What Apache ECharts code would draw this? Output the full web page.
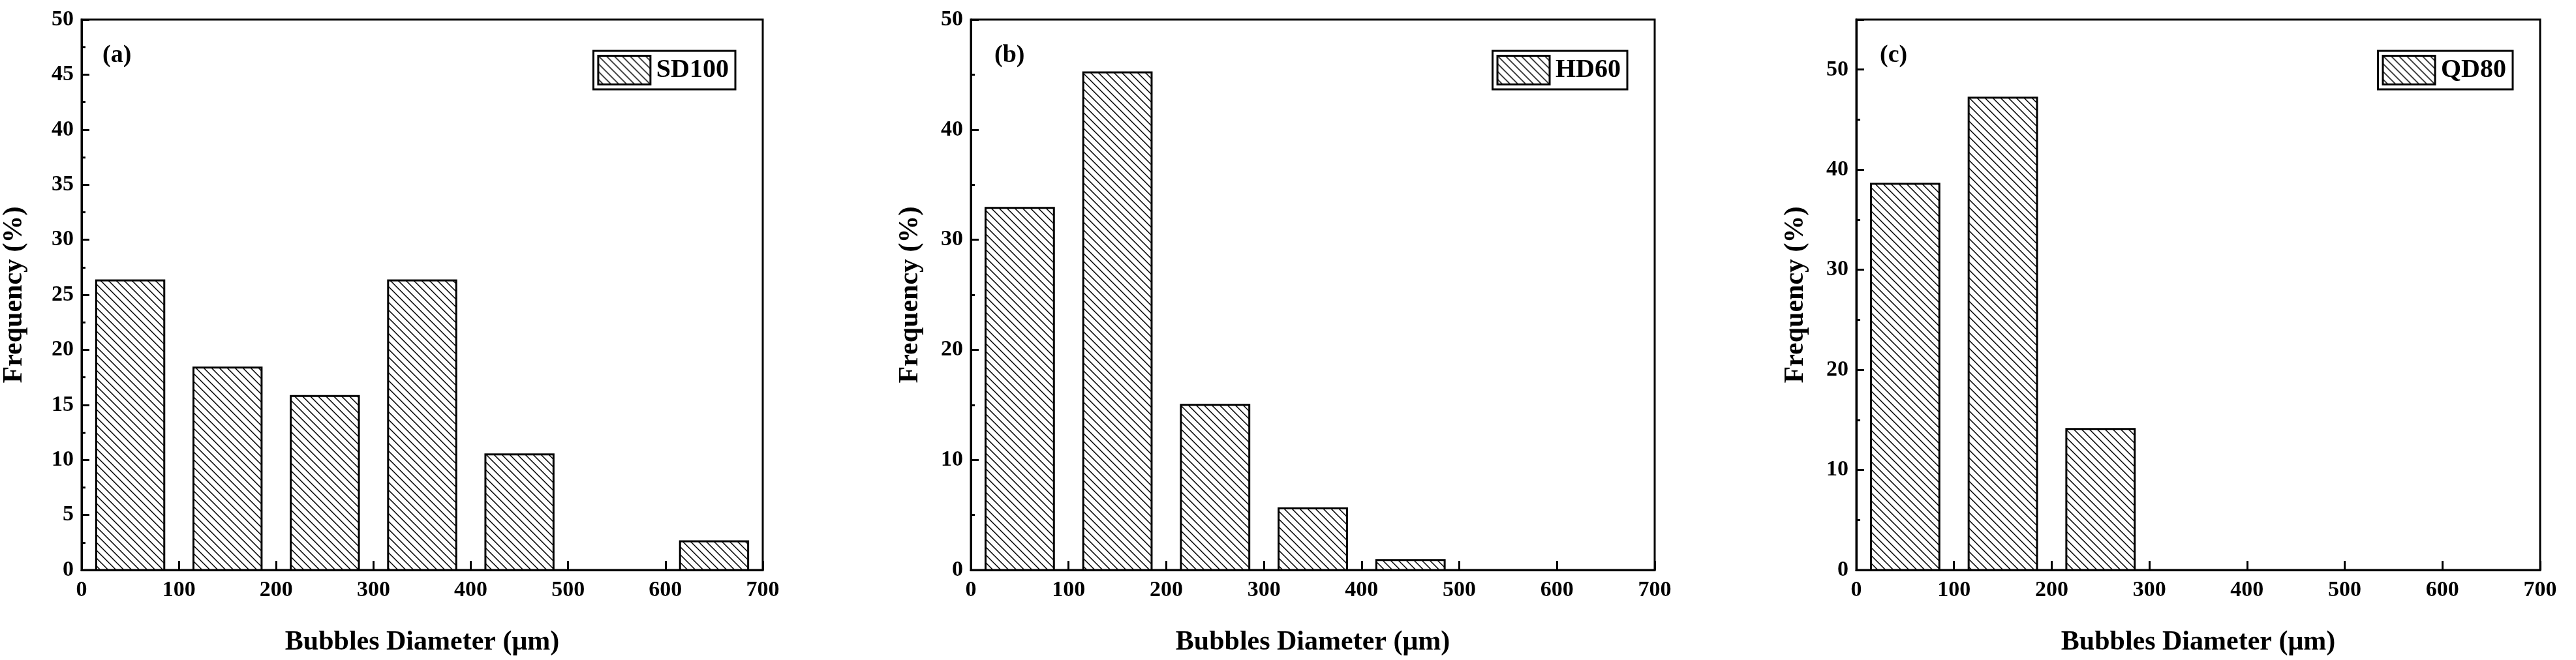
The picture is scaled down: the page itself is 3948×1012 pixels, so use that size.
<!DOCTYPE html>
<html>
<head>
<meta charset="utf-8">
<script src="https://cdn.jsdelivr.net/npm/echarts@6/dist/echarts.min.js"></script>
<style>html,body{margin:0;padding:0;background:#fff}#main{width:3948px;height:1012px}</style>
</head>
<body>
<div id="main"></div>
<script>
// data
var binCenters = [50, 150, 250, 350, 450, 550, 650];
var binWidth = 70;
var sd100 = [26.3, 18.4, 15.8, 26.3, 10.5, 0, 2.6];
var hd60 = [32.9, 45.2, 15.0, 5.6, 0.9, 0, 0];
var qd80 = [38.6, 47.2, 14.1, 0, 0, 0, 0];
var seriesNames = ['SD100', 'HD60', 'QD80'];
var panelLabels = ['(a)', '(b)', '(c)'];
var yMax = [50, 50, 55];
var yStep = [5, 10, 10];

(function () {
    var font = 'Liberation Serif';
    // hatch pattern "\\\\"
    var s = 12;
    var cv = document.createElement('canvas');
    cv.width = s; cv.height = s;
    var ctx = cv.getContext('2d');
    ctx.fillStyle = '#fff'; ctx.fillRect(0, 0, s, s);
    ctx.strokeStyle = '#000'; ctx.lineWidth = 1.5;
    ctx.beginPath();
    ctx.moveTo(-1, -1); ctx.lineTo(s + 1, s + 1);
    ctx.moveTo(-s - 1, -1); ctx.lineTo(1, s + 1);
    ctx.moveTo(s - 1, -1); ctx.lineTo(2 * s + 1, s + 1);
    ctx.stroke();
    var hatch = { image: cv, repeat: 'repeat' };

    var all = [sd100, hd60, qd80];
    var lefts = [121, 1488, 2845];
    var w = 1048;
    var grids = [], xAxes = [], yAxes = [], series = [], legends = [], graphics = [];
    all.forEach(function (vals, i) {
        grids.push({ left: lefts[i], top: 30, width: w, height: 844, show: true,
            borderColor: '#000', borderWidth: 3, backgroundColor: 'transparent' });
        xAxes.push({ type: 'value', gridIndex: i, min: 0, max: 700, interval: 100,
            name: 'Bubbles Diameter (μm)', nameLocation: 'middle', nameGap: 90,
            nameTextStyle: { fontFamily: font, fontWeight: 'bold', fontSize: 42, color: '#000' },
            axisLine: { lineStyle: { color: '#000', width: 3 } },
            axisTick: { inside: true, length: 14, lineStyle: { width: 3, color: '#000' } },
            axisLabel: { fontFamily: font, fontWeight: 'bold', fontSize: 34, color: '#000', margin: 14 },
            splitLine: { show: false } });
        yAxes.push({ type: 'value', gridIndex: i, min: 0, max: yMax[i], interval: yStep[i],
            name: 'Frequency (%)', nameLocation: 'middle', nameGap: i === 0 ? 82 : 72,
            nameTextStyle: { fontFamily: font, fontWeight: 'bold', fontSize: 42, color: '#000' },
            axisLine: { lineStyle: { color: '#000', width: 3 } },
            axisTick: { inside: true, length: 12, lineStyle: { width: 3, color: '#000' } },
            minorTick: { show: true, splitNumber: 2, length: 6, lineStyle: { width: 3, color: '#000' } },
            axisLabel: { fontFamily: font, fontWeight: 'bold', fontSize: 34, color: '#000', margin: 12,
                formatter: function (v) { return v % yStep[i] === 0 ? v : ''; } },
            splitLine: { show: false } });
        series.push({ type: 'custom', name: seriesNames[i], xAxisIndex: i, yAxisIndex: i,
            data: binCenters.map(function (c, k) { return [c, vals[k]]; }).filter(function (d) { return d[1] > 0; }),
            itemStyle: { color: hatch, borderColor: '#000', borderWidth: 3 },
            renderItem: function (params, api) {
                var p0 = api.coord([api.value(0) - binWidth / 2, api.value(1)]);
                var p1 = api.coord([api.value(0) + binWidth / 2, 0]);
                return { type: 'rect', shape: { x: p0[0], y: p0[1], width: p1[0] - p0[0], height: p1[1] - p0[1] },
                    style: { fill: hatch, stroke: '#000', lineWidth: 3 } };
            } });
        legends.push({ data: [seriesNames[i]], right: 3948 - lefts[i] - w + 42, top: 78,
            orient: 'vertical', itemWidth: 80, itemHeight: 44, itemGap: 8, padding: [6, 10, 6, 6],
            borderColor: '#000', borderWidth: 3, icon: 'rect',
            itemStyle: { color: hatch, borderColor: '#000', borderWidth: 3 },
            textStyle: { fontFamily: font, fontWeight: 'bold', fontSize: 40, color: '#000', padding: [0, 0, 0, 4] } });
        graphics.push({ type: 'text', left: lefts[i] + 36, top: 66,
            style: { text: panelLabels[i], font: 'bold 38px "Liberation Serif"', fill: '#000' } });
    });

    var chart = echarts.init(document.getElementById('main'));
    chart.setOption({
        animation: false,
        backgroundColor: '#fff',
        grid: grids, xAxis: xAxes, yAxis: yAxes, series: series, legend: legends, graphic: graphics
    });
})();
</script>
</body>
</html>
